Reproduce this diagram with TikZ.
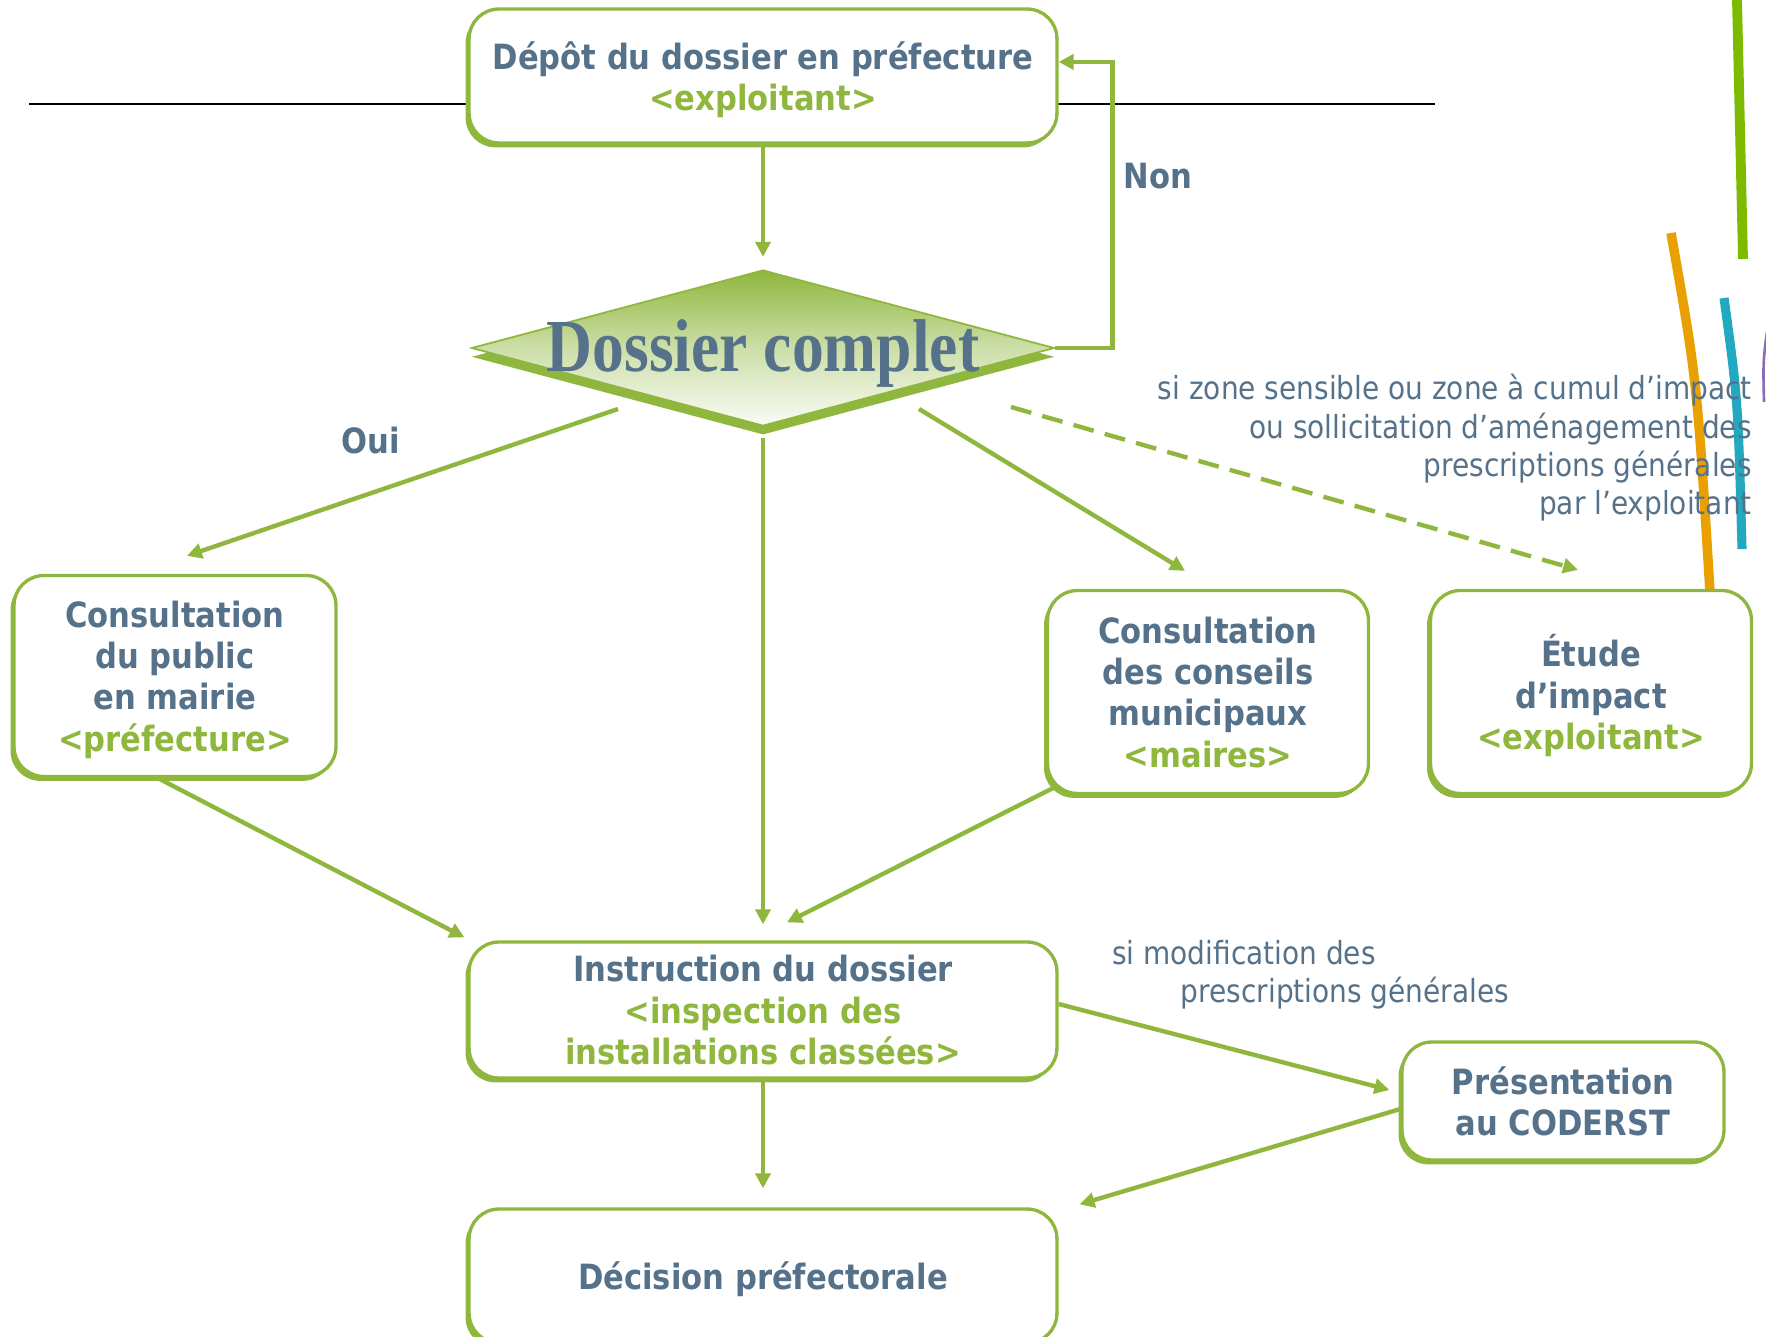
\documentclass[tikz,border=0pt]{standalone}
\usepackage{fontspec}
\setmainfont{DejaVu Sans}[FakeStretch=0.88]
\newfontfamily\titlefont{Liberation Serif}[FakeStretch=0.85]
\usetikzlibrary{arrows.meta,shapes.geometric,shadows,calc}
\definecolor{leaf}{HTML}{8FB73E}
\definecolor{slate}{HTML}{55728A}
\definecolor{ochre}{HTML}{E9A000}
\definecolor{lagoon}{HTML}{22A9C0}
\definecolor{grass}{HTML}{7DBB00}
\definecolor{lilac}{HTML}{8E6BB8}
\newcommand\boxfont{\fontsize{19.8}{23.6}\selectfont\bfseries}
\newcommand\notefont{\fontsize{18.1}{21.8}\selectfont}

\begin{document}
\begin{tikzpicture}[x=0.02cm,y=-0.02cm,
  box/.style={draw=leaf,line width=1.9pt,fill=white,rounded corners=17pt,align=center,
    text=slate,font=\boxfont,text depth=0pt,
    drop shadow={shadow xshift=-2pt,shadow yshift=-2.5pt,fill=leaf,opacity=1}},
  test/.style={diamond,draw=leaf,line width=1pt,top color=leaf,bottom color=leaf!5,
    middle color=leaf!45,
    minimum width=11.66cm,minimum height=3.12cm,inner sep=0pt,
    drop shadow={shadow xshift=0pt,shadow yshift=-5pt,fill=leaf,opacity=1}},
  arr/.style={draw=leaf,line width=2.5pt,-{Triangle[length=8.5pt,width=8.5pt]}},
  note/.style={text=slate,font=\notefont,inner sep=0pt},
  tag/.style={text=slate,font=\boxfont}]
\useasboundingbox (0,0) rectangle (1766,1337);
\clip (0,0) rectangle (1766,1337);

\draw[line width=0.9pt] (29,104) -- (1435,104);
% bandes de couleur a droite
\draw[grass,line width=5.6pt] (1737,0) -- (1743,259);
\draw[ochre,line width=5.4pt] (1671,233) .. controls (1697,380) .. (1710,592);
\draw[lagoon,line width=5.2pt] (1724,298) .. controls (1738,400) .. (1742,549);
\draw[lilac,line width=1.5pt] (1769,318) .. controls (1763,360) .. (1764,402);

\path (763,76) node[box,minimum width=11.76cm,minimum height=2.68cm] (a)
		{Dépôt du dossier en préfecture\\\textcolor{leaf}{<exploitant>}}
	(763,348) node[test] (b) {}
	(763,354) node[text=slate,font={\titlefont\bfseries\fontsize{42.6}{44}\selectfont}] (t)
		{Dossier complet}
	(175,676) node[box,minimum width=6.44cm,minimum height=4.02cm] (c)
		{Consultation\\du public\\en mairie\\\textcolor{leaf}{<préfecture>}}
	(1208,692) node[box,minimum width=6.42cm,minimum height=4.06cm] (d)
		{Consultation\\des conseils\\municipaux\\\textcolor{leaf}{<maires>}}
	(1591,692) node[box,minimum width=6.42cm,minimum height=4.06cm] (e)
		{Étude\\d’impact\\\textcolor{leaf}{<exploitant>}}
	(763,1010) node[box,minimum width=11.76cm,minimum height=2.72cm] (f)
		{Instruction du dossier\\\textcolor{leaf}{<inspection des}\\\textcolor{leaf}{installations classées>}}
	(1563,1101) node[box,minimum width=6.44cm,minimum height=2.36cm] (g)
		{Présentation\\au CODERST}
	(763,1276) node[box,minimum width=11.76cm,minimum height=2.68cm] (h)
		{Décision préfectorale}
	(1158,176) node[tag] (non) {Non}
	(371,441) node[tag] (oui) {Oui}
	(1752,448) node[note,anchor=east,align=right] (zone)
		{si zone sensible ou zone à cumul d’impact\\ou sollicitation d’aménagement des\\prescriptions générales\\par l’exploitant}
	(1112,975) node[note,anchor=west,align=left] (modif)
		{si modification des\\\hspace*{39pt}prescriptions générales}
	;

\draw[arr,shorten >=7pt] (a.south) -- (b.north);
\draw[arr] (b.east) -- ++(57,0) |- ([yshift=8pt]a.east);
\draw[arr] ($(b)+(-145,61)$) -- ($(c.north)+(12,-18)$);
\draw[arr] ($(b.south)+(0,11)$) -- ($(f.north)+(0,-16)$);
\draw[arr] ($(b)+(156,61)$) -- ($(d.north)+(-23,-18)$);
\draw[arr,dash pattern=on 12pt off 6.5pt] ($(b)+(248,59)$) -- ($(e.north)+(-13,-19)$);
\draw[arr] ($(c.south)+(-17,0)$) -- ($(f.north west)+(-3,-3)$);
\draw[arr] ($(d.south west)+(9,-8)$) -- ($(f.north)+(24,-18)$);
\draw[arr] ($(f.east)+(0,-6)$) -- ($(g.west)+(-11,-11)$);
\draw[arr] ($(g.west)+(0,8)$) -- ($(h.north east)+(21,-3)$);
\draw[arr,shorten >=10.8pt] (f.south) -- (h.north);
\end{tikzpicture}
\end{document}
